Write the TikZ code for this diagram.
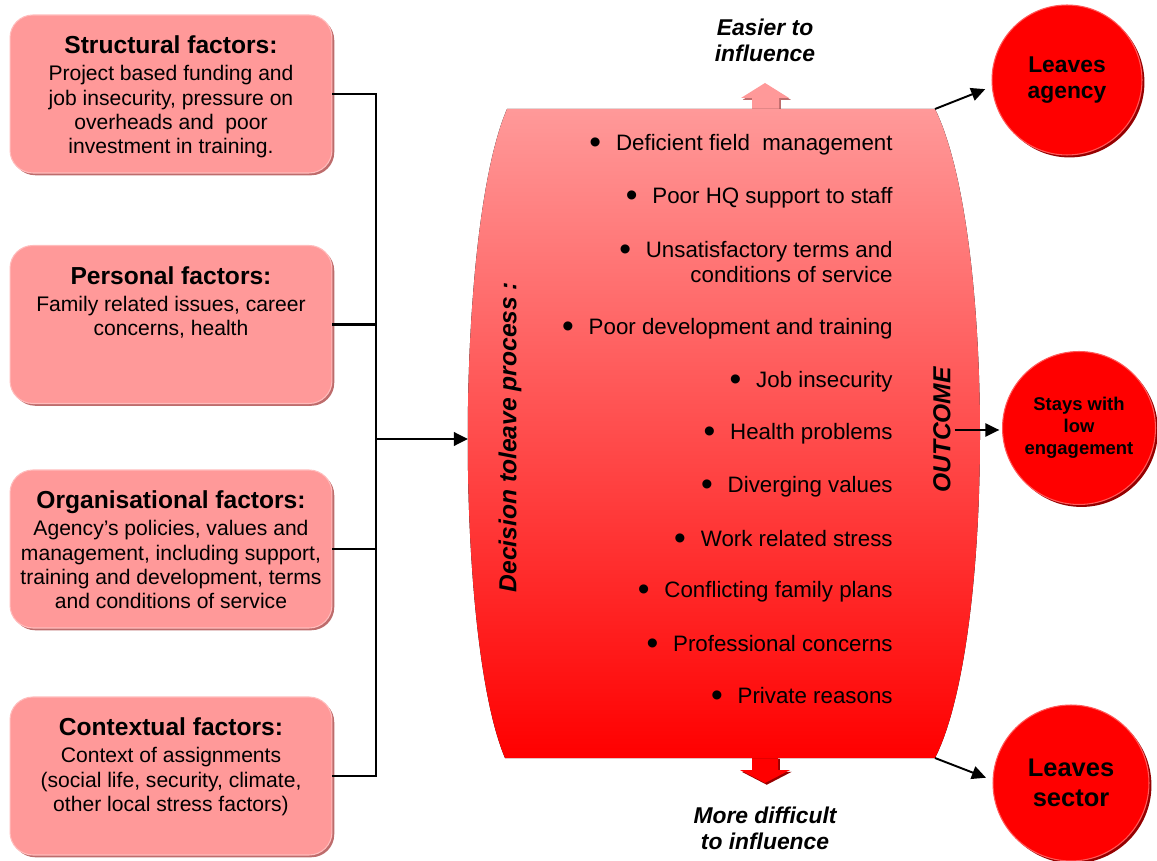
\documentclass[tikz,border=0pt]{standalone}
\usepackage{fontspec}
\setmainfont{Liberation Sans}
\usetikzlibrary{positioning,shadows,arrows.meta}
\definecolor{salmon}{RGB}{255,153,153}
\definecolor{salmonrim}{RGB}{255,188,188}
\definecolor{salmonshade}{RGB}{190,108,108}
\definecolor{deepred}{RGB}{255,0,0}
\definecolor{redrim}{RGB}{255,90,90}
\definecolor{redshade}{RGB}{150,0,0}
\tikzset{factor/.style={
    rounded corners=13pt, fill=salmon, draw=salmonrim, line width=0.6pt,
    minimum width=6.44cm, minimum height=3.16cm, inner sep=0pt,
    drop shadow={shadow xshift=1.3pt, shadow yshift=-1.3pt, fill=salmonshade, opacity=1}
  },
  factor text/.style={align=center, inner sep=0pt, font=\fontsize{12}{13.9}\selectfont},
  reason/.style={align=right, anchor=east, inner sep=0pt, font=\fontsize{12.7}{14.2}\selectfont},
  headline/.style={inner sep=2pt, font=\fontsize{14}{16}\selectfont\bfseries\itshape},
  influence/.style={align=center, inner sep=0pt, font=\fontsize{13}{14.7}\selectfont\bfseries\itshape},
  result/.style={
    circle, fill=deepred, draw=redrim, line width=0.6pt, inner sep=0pt, align=center,
    drop shadow={shadow xshift=1.4pt, shadow yshift=-1.4pt, fill=redshade, opacity=1}
  },
  link/.style={draw, line width=1.7pt},
  outarrow/.style={draw, line width=1.1pt, -{Triangle[length=8pt,width=7.5pt]}}
}
\newcommand\factorhead[1]{{\fontsize{14}{16}\selectfont\bfseries #1}\\[1.4pt]}
\newcommand\reasondot{\raisebox{-1.6pt}{\fontsize{19}{19}\selectfont\textbullet}\hspace{8.5pt}}

\begin{document}
\begin{tikzpicture}[x=0.02cm,y=-0.02cm]
  \useasboundingbox (0,0) rectangle (1157,861);

  \node[factor] (struct) at (171,94) {};
  \node[factor] (personal) at (171,324.5) {};
  \node[factor] (organis) at (171,549) {};
  \node[factor] (context) at (171,776) {};
  \node[factor text, below=12pt of struct.north] (struct text)
    {\factorhead{Structural factors:}Project based funding and\\job insecurity, pressure on\\overheads and\ \ poor\\investment in training.};
  \node[factor text, below=12pt of personal.north] (personal text)
    {\factorhead{Personal factors:}Family related issues, career\\concerns, health};
  \node[factor text, below=12pt of organis.north] (organis text)
    {\factorhead{Organisational factors:}Agency’s policies, values and\\management, including support,\\training and development, terms\\and conditions of service};
  \node[factor text, below=12pt of context.north] (context text)
    {\factorhead{Contextual factors:}Context of assignments\\(social life, security, climate,\\other local stress factors)};

  \coordinate (join) at (376,439);
  \coordinate (cyl in) at (468,439);
  \coordinate (cyl top) at (935,109);
  \coordinate (cyl bottom) at (935,758);
  \foreach \f in {struct,personal,organis,context}
    \draw[link] (\f.east) -| (join);
  \draw[link,-{Triangle[length=8pt,width=7.5pt]}] (join) -- (cyl in);

  \path[fill=salmon, drop shadow={shadow xshift=1pt, shadow yshift=-1pt, fill=salmonshade, opacity=1}]
    (752,109) -- (752,98) -- (741,98) -- (765,83) -- (789,98) -- (779,98) -- (779,109) -- cycle;
  \path[fill=deepred, drop shadow={shadow xshift=1pt, shadow yshift=-1pt, fill=redshade, opacity=1}]
    (752,757) -- (752,770) -- (740,770) -- (765,783) -- (790,770) -- (778,770) -- (778,757) -- cycle;
  \fill[top color=salmon, bottom color=deepred]
    (507,109) -- (cyl top) .. controls (995,230) and (995,640) .. (cyl bottom)
    -- (505,758) .. controls (455,640) and (455,230) .. (507,109) -- cycle;

  \node[influence] (easier) at (765,40) {Easier to\\influence};
  \node[influence] (harder) at (765,828) {More difficult\\to influence};
  \node[headline, rotate=90] (decision) at (510,437) {Decision toleave process :};
  \node[headline, rotate=90] (outcome) at (942,430) {OUTCOME};

  \foreach \py/\why [count=\i] in {143/{Deficient field\ \ management}, 196/{Poor HQ support to staff},
      260.5/{Unsatisfactory terms and\\conditions of service}, 327/{Poor development and training},
      380/{Job insecurity}, 432/{Health problems}, 485/{Diverging values}, 538/{Work related stress},
      590/{Conflicting family plans}, 643/{Professional concerns}, 695/{Private reasons}}
    \node[reason] (reason\i) at (893,{\py+2}) {\reasondot\why};

  \node[result, minimum size=3cm, font=\fontsize{13}{14.7}\selectfont\bfseries] (agency) at (1067,80) {Leaves\\agency};
  \node[result, minimum size=3.06cm, font=\fontsize{10.5}{12.4}\selectfont\bfseries] (stays) at (1079,428) {Stays with\\low\\engagement};
  \node[result, minimum size=3.12cm, font=\fontsize{14.5}{17}\selectfont\bfseries] (sector) at (1071,783) {Leaves\\sector};

  \draw[outarrow, shorten >=4pt] (cyl top) -- (agency.185);
  \draw[outarrow, shorten >=1.5pt] (outcome.south) -- (outcome.south -| stays.west);
  \draw[outarrow, shorten >=4pt] (cyl bottom) -- (sector.178);
\end{tikzpicture}
\end{document}
